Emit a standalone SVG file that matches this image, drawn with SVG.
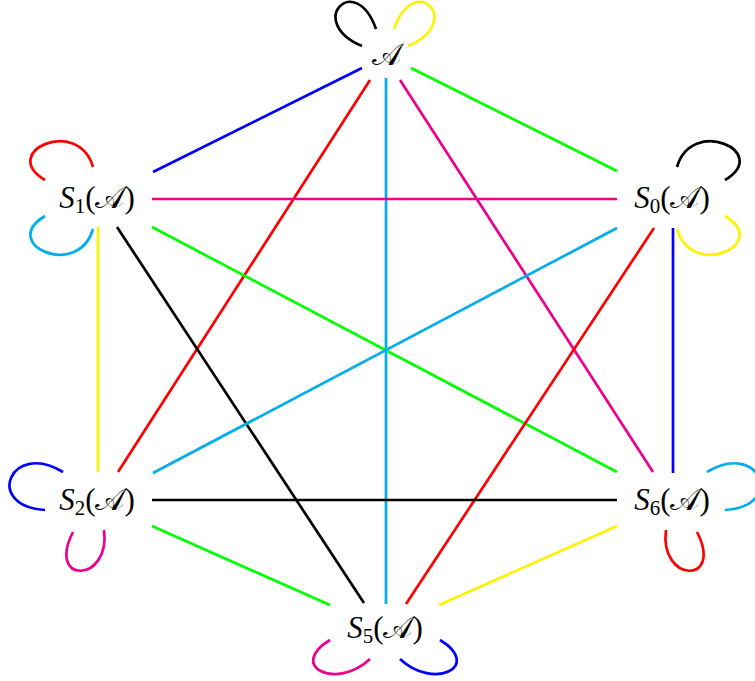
<svg xmlns="http://www.w3.org/2000/svg" width="755" height="681" viewBox="0 0 755 681">
<style>
.e{fill:none;stroke-width:2.7;stroke-linecap:butt}
.lbl{font-family:"Liberation Serif","DejaVu Serif",serif;font-size:31px;fill:#000;text-anchor:middle}
.it{font-style:italic}
.sub{font-size:21px}
.k{stroke:#000}.r{stroke:#ff0000}.g{stroke:#00ff00}.b{stroke:#0000ff}.c{stroke:#00aeef}.m{stroke:#ec008c}.y{stroke:#fff200}
</style>
<rect width="755" height="681" fill="#fff"/>
<g id="connectors">
<line class="e b" x1="362" y1="68" x2="153" y2="172"/>
<line class="e g" x1="411" y1="68" x2="617" y2="171"/>
<line class="e r" x1="370" y1="80" x2="118" y2="472"/>
<line class="e c" x1="386" y1="78" x2="386" y2="604"/>
<line class="e m" x1="400" y1="80" x2="653" y2="472"/>
<line class="e m" x1="152" y1="199" x2="617" y2="199"/>
<line class="e y" x1="98" y1="227" x2="98" y2="472"/>
<line class="e k" x1="117" y1="227" x2="364" y2="603"/>
<line class="e g" x1="152" y1="227" x2="617" y2="472"/>
<line class="e c" x1="617" y1="228" x2="153" y2="473"/>
<line class="e r" x1="654" y1="228" x2="406" y2="604"/>
<line class="e b" x1="673" y1="228" x2="673" y2="473"/>
<line class="e k" x1="152" y1="500" x2="617" y2="500"/>
<line class="e g" x1="152" y1="526" x2="330" y2="605"/>
<line class="e y" x1="617" y1="526" x2="439" y2="605"/>
<path class="e k" d="M362,46 C305,22 355,-30 376,29"/>
<path class="e y" d="M394,29 C415,-30 465,22 408,46"/>
<path class="e r" d="M93,167 C78,116 -2,152 45,180"/>
<path class="e c" d="M45,216 C-2,244 78,280 93,229"/>
<path class="e k" d="M677,167 C692,116 772,152 725,180"/>
<path class="e y" d="M725,216 C772,244 692,280 677,229"/>
<path class="e b" d="M63,472 C11,440 -17,506 45,510"/>
<path class="e m" d="M73,532 C46,585 111,583 104,530"/>
<path class="e c" d="M707,472 C759,440 787,506 725,510"/>
<path class="e r" d="M697,532 C724,585 659,583 666,530"/>
<path class="e m" d="M330,640 C287,666 336,691 370,659"/>
<path class="e b" d="M440,640 C483,666 434,691 400,659"/>
</g>
<g id="A"><text class="lbl" x="386" y="65">𝒜</text></g>
<g id="S1"><text class="lbl" x="97" y="208"><tspan class="it">S</tspan><tspan class="sub" dy="5">1</tspan><tspan dy="-5">(𝒜)</tspan></text></g>
<g id="S0"><text class="lbl" x="672" y="208"><tspan class="it">S</tspan><tspan class="sub" dy="5">0</tspan><tspan dy="-5">(𝒜)</tspan></text></g>
<g id="S2"><text class="lbl" x="97" y="510"><tspan class="it">S</tspan><tspan class="sub" dy="5">2</tspan><tspan dy="-5">(𝒜)</tspan></text></g>
<g id="S6"><text class="lbl" x="672" y="510"><tspan class="it">S</tspan><tspan class="sub" dy="5">6</tspan><tspan dy="-5">(𝒜)</tspan></text></g>
<g id="S5"><text class="lbl" x="385" y="638"><tspan class="it">S</tspan><tspan class="sub" dy="5">5</tspan><tspan dy="-5">(𝒜)</tspan></text></g>
</svg>
